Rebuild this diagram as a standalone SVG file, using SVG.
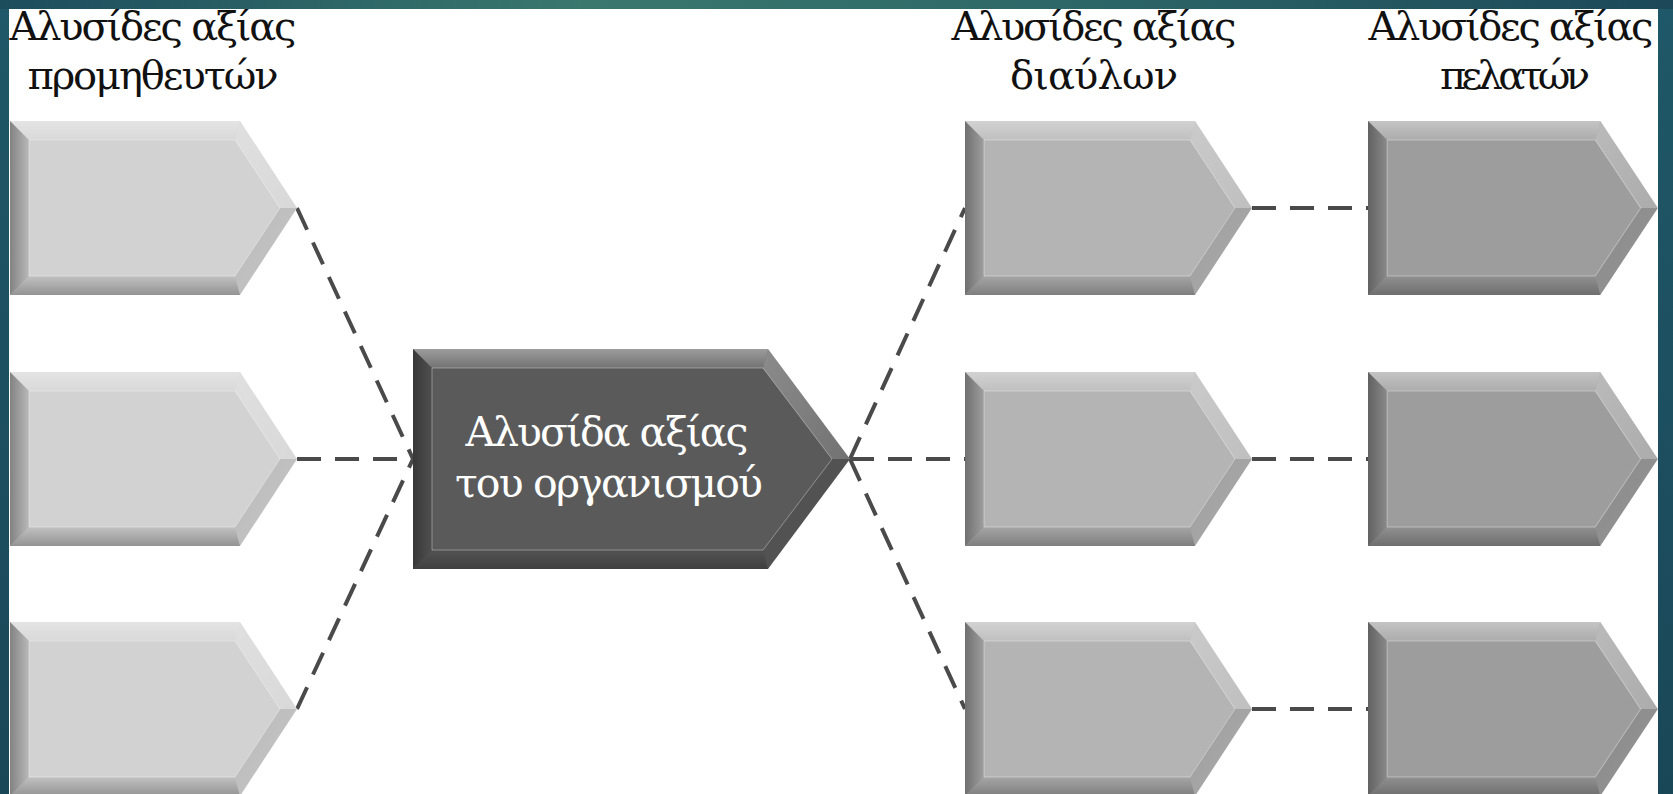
<svg xmlns="http://www.w3.org/2000/svg" xmlns:xlink="http://www.w3.org/1999/xlink" width="1673" height="794" viewBox="0 0 1673 794">
<style>
.hdr{font-family:"DejaVu Serif","Liberation Serif",serif;font-size:40px;fill:#111;text-anchor:middle}
.ctr{font-family:"DejaVu Serif","Liberation Serif",serif;font-size:41px;fill:#fff;text-anchor:middle}
.conn line{stroke:#4a4a4a;stroke-width:4;stroke-dasharray:24 14;fill:none}
.sup{fill:#d2d2d2}
.chn{fill:#b4b4b4}
.cus{fill:#9d9d9d}
.org{fill:#5a5a5a}
.hl{fill:none;stroke:#fff;stroke-opacity:0.35;stroke-width:1}
</style>
<defs>
<linearGradient id="gTopBar" x1="0" y1="0" x2="1" y2="0">
<stop offset="0" stop-color="#1c4d5d"/>
<stop offset="0.35" stop-color="#3a786e"/>
<stop offset="0.65" stop-color="#2c6667"/>
<stop offset="1" stop-color="#1c4859"/>
</linearGradient>
<linearGradient id="gSide" x1="0" y1="0" x2="0" y2="1">
<stop offset="0" stop-color="#1f5868"/>
<stop offset="1" stop-color="#1a4758"/>
</linearGradient>
<linearGradient id="gTop" x1="0" y1="0" x2="0" y2="1">
<stop offset="0" stop-color="#fff" stop-opacity="0.4"/>
<stop offset="1" stop-color="#fff" stop-opacity="0.15"/>
</linearGradient>
<linearGradient id="gLeft" x1="0" y1="0" x2="1" y2="0">
<stop offset="0" stop-color="#000" stop-opacity="0.38"/>
<stop offset="1" stop-color="#000" stop-opacity="0.12"/>
</linearGradient>
<linearGradient id="gBottom" x1="0" y1="0" x2="0" y2="1">
<stop offset="0" stop-color="#000" stop-opacity="0.08"/>
<stop offset="1" stop-color="#000" stop-opacity="0.3"/>
</linearGradient>
<linearGradient id="gDiagUp" x1="0" y1="0" x2="1" y2="1">
<stop offset="0" stop-color="#fff" stop-opacity="0.3"/>
<stop offset="1" stop-color="#fff" stop-opacity="0.15"/>
</linearGradient>
<linearGradient id="gDiagDown" x1="0" y1="0" x2="1" y2="1">
<stop offset="0" stop-color="#000" stop-opacity="0.12"/>
<stop offset="1" stop-color="#000" stop-opacity="0.05"/>
</linearGradient>
<g id="arrowSmall">
<polygon points="0,0 230,0 287,87 230,174 0,174"/>
<polygon fill="url(#gTop)" points="0,0 230,0 225,19 19,19"/>
<polygon fill="url(#gLeft)" points="0,0 19,19 19,155 0,174"/>
<polygon fill="url(#gBottom)" points="0,174 19,155 225,155 230,174"/>
<polygon fill="url(#gDiagUp)" points="230,0 287,87 270,87 225,19"/>
<polygon fill="url(#gDiagDown)" points="287,87 230,174 225,155 270,87"/>
<polygon class="hl" points="19,19 225,19 270,87 225,155 19,155"/>
</g>
</defs>

<rect x="0" y="0" width="1673" height="794" fill="#fff"/>
<rect x="0" y="0" width="9" height="794" fill="url(#gSide)"/>
<rect x="1658" y="0" width="15" height="794" fill="url(#gSide)"/>
<rect x="0" y="0" width="1673" height="9" fill="url(#gTopBar)"/>

<g id="connectors" class="conn">
<line x1="297" y1="208" x2="413" y2="459"/>
<line x1="297" y1="459" x2="413" y2="459"/>
<line x1="297" y1="709" x2="413" y2="459"/>
<line x1="850" y1="459" x2="965" y2="208"/>
<line x1="850" y1="459" x2="965" y2="459"/>
<line x1="850" y1="459" x2="965" y2="709"/>
<line x1="1252" y1="208" x2="1368" y2="208"/>
<line x1="1252" y1="459" x2="1368" y2="459"/>
<line x1="1252" y1="709" x2="1368" y2="709"/>
</g>

<g id="hdr-suppliers">
<text class="hdr" x="153" y="40" textLength="287">Αλυσίδες αξίας</text>
<text class="hdr" x="153" y="89" textLength="251">προμηθευτών</text>
</g>
<g id="hdr-channels">
<text class="hdr" x="1094" y="40" textLength="285">Αλυσίδες αξίας</text>
<text class="hdr" x="1094" y="89" textLength="168">διαύλων</text>
</g>
<g id="hdr-customers">
<text class="hdr" x="1511" y="40" textLength="285">Αλυσίδες αξίας</text>
<text class="hdr" x="1515" y="89" textLength="150">πελατών</text>
</g>

<g id="supplier-1"><use xlink:href="#arrowSmall" href="#arrowSmall" class="sup" transform="translate(10,121)"/></g>
<g id="supplier-2"><use xlink:href="#arrowSmall" href="#arrowSmall" class="sup" transform="translate(10,372)"/></g>
<g id="supplier-3"><use xlink:href="#arrowSmall" href="#arrowSmall" class="sup" transform="translate(10,622)"/></g>

<g id="organisation">
<polygon class="org" points="413,349 768,349 850,459 768,569 413,569"/>
<polygon fill="url(#gTop)" points="413,349 768,349 763,368 432,368"/>
<polygon fill="url(#gLeft)" points="413,349 432,368 432,550 413,569"/>
<polygon fill="url(#gBottom)" points="413,569 432,550 763,550 768,569"/>
<polygon fill="url(#gDiagUp)" points="768,349 850,459 832,459 763,368"/>
<polygon fill="url(#gDiagDown)" points="850,459 768,569 763,550 832,459"/>
<polygon class="hl" points="432,368 763,368 832,459 763,550 432,550"/>
<text class="ctr" x="607" y="446" textLength="283">Αλυσίδα αξίας</text>
<text class="ctr" x="609" y="497" textLength="308">του οργανισμού</text>
</g>

<g id="channel-1"><use xlink:href="#arrowSmall" href="#arrowSmall" class="chn" transform="translate(965,121)"/></g>
<g id="channel-2"><use xlink:href="#arrowSmall" href="#arrowSmall" class="chn" transform="translate(965,372)"/></g>
<g id="channel-3"><use xlink:href="#arrowSmall" href="#arrowSmall" class="chn" transform="translate(965,622)"/></g>

<g id="customer-1"><use xlink:href="#arrowSmall" href="#arrowSmall" class="cus" transform="translate(1368,121) scale(1.01,1)"/></g>
<g id="customer-2"><use xlink:href="#arrowSmall" href="#arrowSmall" class="cus" transform="translate(1368,372) scale(1.01,1)"/></g>
<g id="customer-3"><use xlink:href="#arrowSmall" href="#arrowSmall" class="cus" transform="translate(1368,622) scale(1.01,1)"/></g>
</svg>
